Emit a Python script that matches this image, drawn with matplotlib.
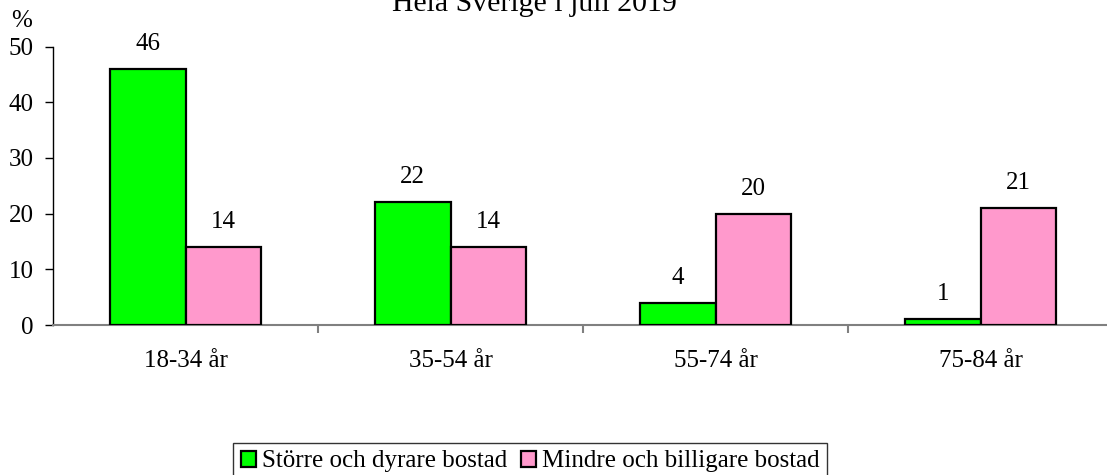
import matplotlib
matplotlib.use("Agg")
import matplotlib.pyplot as plt
import numpy as np
from matplotlib.patches import Patch

categories = ["18-34 år", "35-54 år", "55-74 år", "75-84 år"]
series_names = ["Större och dyrare bostad", "Mindre och billigare bostad"]
storre = [46, 22, 4, 1]
mindre = [14, 14, 20, 21]
yticks = [0, 10, 20, 30, 40, 50]
title = "Hela Sverige i juli 2019"

plt.rcParams['font.family'] = ['Liberation Serif', 'DejaVu Serif']
FS = 18

W, H = 1107, 475
fig = plt.figure(figsize=(W / 100, H / 100), dpi=100)
left = 53 / W
width = 4 * 265 / W
bottom = 1 - 325 / H
height = (325 - 46.5) / H
ax = fig.add_axes([left, bottom, width, height])

x = np.arange(len(categories)) + 0.5
bw = 75.5 / 265
colors = ["#00FF00", "#FF99CC"]
for vals, off, c in [(storre, -bw / 2, colors[0]), (mindre, bw / 2, colors[1])]:
    bars = ax.bar(x + off, vals, width=bw, color=c, edgecolor="black", linewidth=1.6, zorder=3)
    for b, v in zip(bars, vals):
        ax.annotate(str(v), (b.get_x() + b.get_width() / 2, v), xytext=(0, 13.7),
                    textcoords="offset points", ha="center", va="baseline", fontsize=FS)

ax.set_xlim(0, 4)
ax.set_ylim(0, 50)
ax.set_yticks(yticks)
ax.set_yticklabels([str(t) for t in yticks], fontsize=FS)
ax.set_xticks([1, 2, 3])
ax.set_xticklabels([])
ax.set_xticks(x, minor=True)
ax.set_xticklabels(categories, minor=True, fontsize=FS)
ax.tick_params(axis="x", which="minor", length=0, pad=18)
ax.tick_params(axis="x", which="major", length=6, width=1.5, color="#808080", direction="out")
ax.tick_params(axis="y", length=6, width=1, direction="out", pad=8)
for s in ["top", "right"]:
    ax.spines[s].set_visible(False)
ax.spines["bottom"].set_color("#808080")
ax.spines["bottom"].set_linewidth(1.5)
ax.spines["left"].set_linewidth(1.0)

fig.text(22 / W, 1 - 21 / H, "%", fontsize=FS, ha="center", va="center")
fig.text(534 / W, 1 - 11 / H, title, fontsize=21.5, ha="center", va="baseline")

handles = [Patch(facecolor=colors[0], edgecolor="black", linewidth=1.6),
           Patch(facecolor=colors[1], edgecolor="black", linewidth=1.6)]
leg = fig.legend(handles, series_names, loc="upper left", bbox_to_anchor=(233 / W, 1 - 443 / H),
                 ncol=2, fontsize=FS, frameon=True, fancybox=False, edgecolor="black",
                 handlelength=0.6, handleheight=0.6, handletextpad=0.25, columnspacing=0.55,
                 borderpad=0.3, borderaxespad=0)
leg.get_frame().set_linewidth(1.0)

fig.savefig("out.png", dpi=100)
